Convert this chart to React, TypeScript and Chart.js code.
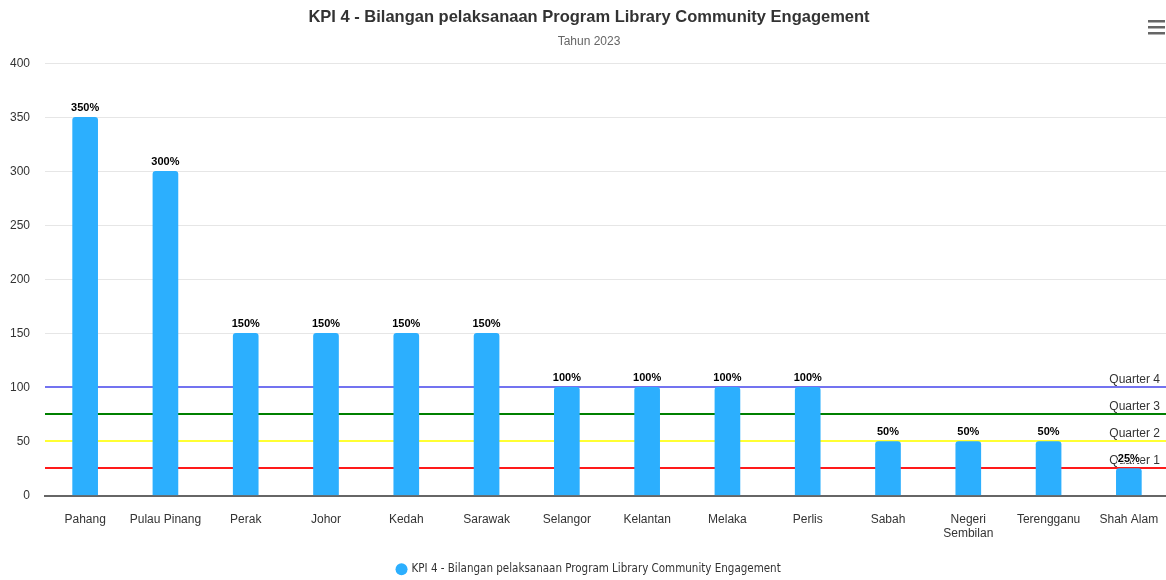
import React, { useEffect, useRef } from "react";
import { Chart, registerables } from "chart.js";

Chart.register(...registerables);

const TITLE = "KPI 4 - Bilangan pelaksanaan Program Library Community Engagement";
const SUBTITLE = "Tahun 2023";
const SERIES_NAME = "KPI 4 - Bilangan pelaksanaan Program Library Community Engagement";

const categories: (string | string[])[] = [
  "Pahang",
  "Pulau Pinang",
  "Perak",
  "Johor",
  "Kedah",
  "Sarawak",
  "Selangor",
  "Kelantan",
  "Melaka",
  "Perlis",
  "Sabah",
  ["Negeri", "Sembilan"],
  "Terengganu",
  "Shah Alam",
];

const values = [350, 300, 150, 150, 150, 150, 100, 100, 100, 100, 50, 50, 50, 25];

const quarterLabels = ["Quarter 1", "Quarter 2", "Quarter 3", "Quarter 4"];
const quarterValues = [25, 50, 75, 100];
const quarterColors = ["#ff1a1a", "#ffff33", "#008000", "#7373f0"];

const yTicks = [0, 50, 100, 150, 200, 250, 300, 350, 400];

const FONT = "'Liberation Sans', Arial, Helvetica, sans-serif";
const VIEW_W = 1166;

const plotLinesPlugin = {
  id: "plotLines",
  beforeDatasetsDraw(chart: any) {
    const { ctx, chartArea, scales } = chart;
    ctx.save();
    quarterValues.forEach((v, i) => {
      const y = Math.round(scales.y.getPixelForValue(v));
      ctx.strokeStyle = quarterColors[i];
      ctx.lineWidth = 2;
      ctx.beginPath();
      ctx.moveTo(chartArea.left, y);
      ctx.lineTo(chartArea.right, y);
      ctx.stroke();
    });
    ctx.restore();
  },
  afterDatasetsDraw(chart: any) {
    const { ctx, scales } = chart;
    ctx.save();
    ctx.font = `12px ${FONT}`;
    ctx.fillStyle = "#333333";
    ctx.textAlign = "right";
    ctx.textBaseline = "alphabetic";
    quarterValues.forEach((v, i) => {
      const y = scales.y.getPixelForValue(v);
      ctx.fillText(quarterLabels[i], VIEW_W - 6, y - 4);
    });
    // data labels
    const meta = chart.getDatasetMeta(0);
    ctx.font = `bold 11px ${FONT}`;
    ctx.textAlign = "center";
    ctx.lineJoin = "round";
    meta.data.forEach((bar: any, i: number) => {
      const txt = `${values[i]}%`;
      ctx.strokeStyle = "#ffffff";
      ctx.lineWidth = 2;
      ctx.strokeText(txt, bar.x, bar.y - 6);
      ctx.fillStyle = "#000000";
      ctx.fillText(txt, bar.x, bar.y - 6);
    });
    // hamburger menu icon
    ctx.fillStyle = "#666666";
    [21, 27, 33].forEach((y) => {
      ctx.fillRect(VIEW_W - 18, y - 1, 17, 2.5);
    });
    ctx.restore();
  },
};

export default function App() {
  const ref = useRef<HTMLCanvasElement>(null);

  useEffect(() => {
    if (!ref.current) return;
    const chart = new Chart(ref.current, {
      type: "bar",
      data: {
        labels: categories,
        datasets: [
          {
            label: SERIES_NAME,
            data: values,
            backgroundColor: "#2caffe",
            borderRadius: { topLeft: 3, topRight: 3, bottomLeft: 0, bottomRight: 0 },
            borderSkipped: "bottom",
            barThickness: 25,
            categoryPercentage: 1,
          },
        ],
      },
      options: {
        animation: false,
        responsive: false,
        maintainAspectRatio: false,
        layout: { padding: { top: 0, left: 9, right: 1, bottom: -5 } },
        plugins: {
          title: {
            display: true,
            text: TITLE,
            color: "#333333",
            font: { family: FONT, size: 16.5, weight: "bold" },
            padding: { top: 8, bottom: 7 },
          },
          subtitle: {
            display: true,
            text: SUBTITLE,
            color: "#666666",
            font: { family: FONT, size: 12 },
            padding: { top: 0, bottom: 14 },
          },
          legend: {
            display: true,
            position: "bottom",
            labels: {
              usePointStyle: true,
              pointStyle: "circle",
              boxWidth: 8.5,
              boxHeight: 8.5,
              color: "#333333",
              font: { family: "'DejaVu Sans Condensed', 'DejaVu Sans', sans-serif", size: 11.5 },
              padding: 8,
            },
          },
          tooltip: { enabled: false },
        },
        scales: {
          x: {
            grid: { display: false, drawTicks: false },
            border: { display: true, color: "#666666", width: 2 },
            ticks: {
              color: "#333333",
              font: { family: FONT, size: 12 },
              padding: 17,
              maxRotation: 0,
              autoSkip: false,
            },
            afterFit: (scale: any) => {
              scale.height = 60;
              scale.paddingLeft = 0;
              scale.paddingRight = 0;
            },
          },
          y: {
            min: 0,
            max: 400,
            afterBuildTicks: (scale: any) => {
              scale.ticks = yTicks.map((v) => ({ value: v }));
            },
            afterFit: (scale: any) => {
              scale.width = 36;
            },
            grid: { color: "#e6e6e6", drawTicks: false },
            border: { display: false },
            ticks: {
              color: "#333333",
              font: { family: FONT, size: 12 },
              padding: 15,
            },
          },
        },
      },
      plugins: [plotLinesPlugin],
    });
    return () => chart.destroy();
  }, []);

  return (
    <div
      style={{
        position: "fixed",
        left: 0,
        top: 0,
        width: VIEW_W,
        height: 580,
        overflow: "hidden",
        background: "#fff",
      }}
    >
      <canvas ref={ref} width={1170} height={580} style={{ width: 1170, height: 580, display: "block" }} />
    </div>
  );
}
